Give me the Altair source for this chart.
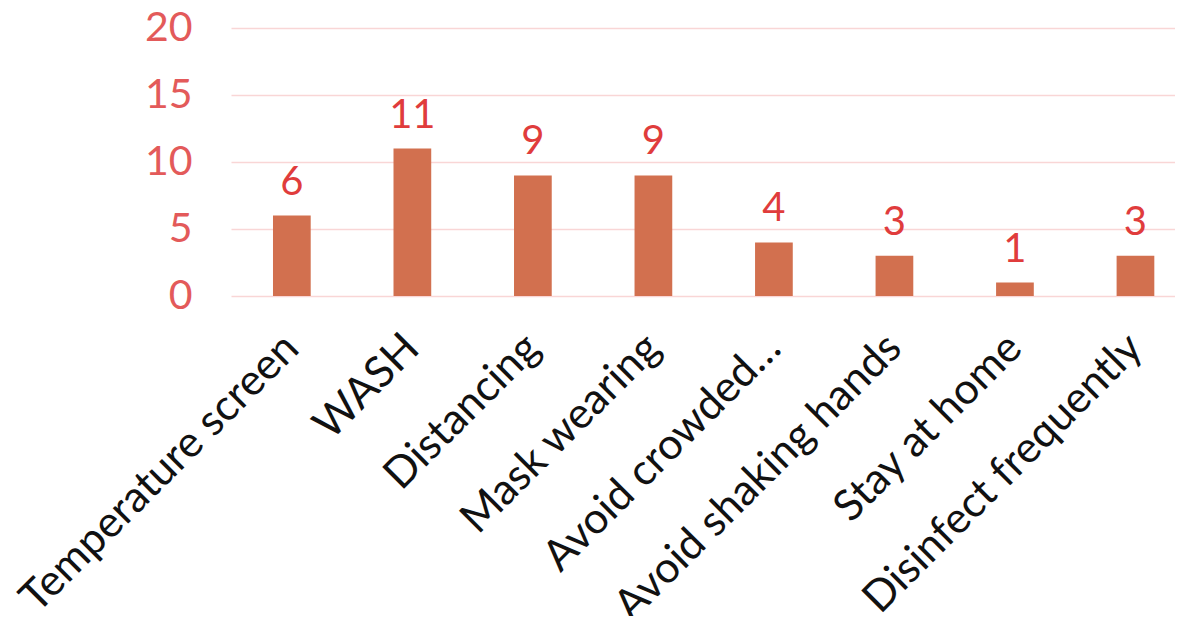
import altair as alt
import pandas as pd

categories = ["Temperature screen", "WASH", "Distancing", "Mask wearing",
              "Avoid crowded…", "Avoid shaking hands", "Stay at home",
              "Disinfect frequently"]
values = [6, 11, 9, 9, 4, 3, 1, 3]
y_ticks = [0, 5, 10, 15, 20]

df = pd.DataFrame({"cat": categories, "val": values})

FONT = "Lato"
BAR = "#D2704F"
YLAB = "#E35A5A"
DLAB = "#E03C3C"
GRID = "#F9D6D6"

x = alt.X("cat:N", sort=categories, title=None,
          scale=alt.Scale(paddingInner=0.687, paddingOuter=0.26, align=0.67),
          axis=alt.Axis(labelAngle=-45, labelAlign="right", labelBaseline="middle",
                        labelPadding=45, labelFontSize=43, labelFont=FONT,
                        labelColor="#111111", ticks=False, domain=False,
                        grid=False, labelLimit=1000))
y = alt.Y("val:Q", title=None,
          scale=alt.Scale(domain=[0, 20], nice=False),
          axis=alt.Axis(values=y_ticks, labelFontSize=41, labelFont=FONT,
                        labelColor=YLAB, ticks=False, domain=False,
                        labelPadding=39, gridColor=GRID, gridWidth=1.5))

bars = alt.Chart(df).mark_bar(color=BAR).encode(x=x, y=y)
labels = alt.Chart(df).mark_text(baseline="alphabetic", dy=-21, fontSize=40,
                                 font=FONT, color=DLAB).encode(
    x=alt.X("cat:N", sort=categories), y="val:Q", text="val:Q")

chart = (bars + labels).properties(
    width=944, height=268,
    autosize=alt.AutoSizeParams(type="none"),
    padding={"left": 223, "top": 20, "right": 0, "bottom": 320},
    background="white",
).configure_view(stroke=None)

chart.save("out.html", embed_options={"renderer": "svg", "actions": False})
